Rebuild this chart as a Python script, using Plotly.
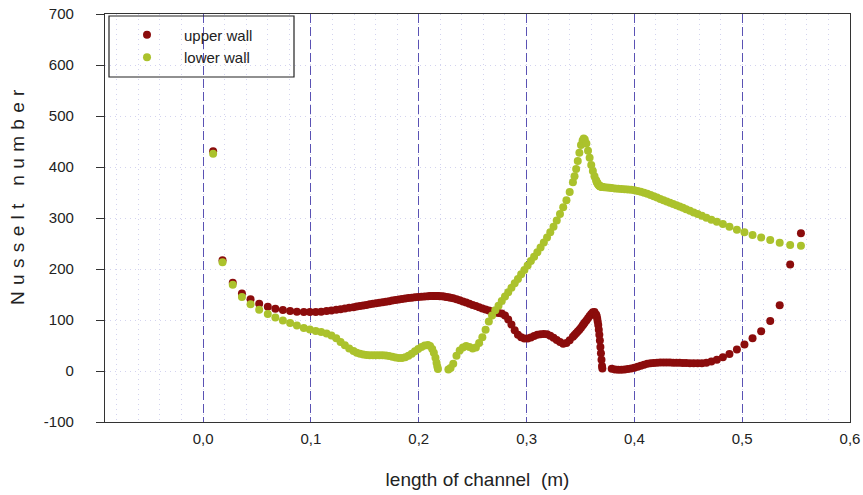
import plotly.graph_objects as go

# Position along the channel (m); both walls share the same mesh stations.
x_pos = [
    0.0093, 0.0180, 0.0275, 0.0360, 0.0440, 0.0520, 0.0600, 0.0670, 0.0740, 0.0807,
    0.0870, 0.0934, 0.0990, 0.1045, 0.1095, 0.1145, 0.1190, 0.1235, 0.1275, 0.1315,
    0.1355, 0.1395,
    0.1425, 0.1455, 0.1485, 0.1515, 0.1545, 0.1575, 0.1605, 0.1635, 0.1665, 0.1695,
    0.1725, 0.1755, 0.1785, 0.1815, 0.1845, 0.1875, 0.1905, 0.1935, 0.1965, 0.1995,
    0.2025, 0.2055, 0.2085, 0.2105, 0.2125, 0.2140, 0.2155, 0.2165, 0.2172, 0.2178,
    0.2195, 0.2215, 0.2235, 0.2255,
    0.2275, 0.2295, 0.2320, 0.2350, 0.2380, 0.2410, 0.2440, 0.2470, 0.2500, 0.2530,
    0.2560, 0.2590, 0.2620, 0.2650, 0.2680, 0.2710, 0.2740, 0.2770, 0.2800, 0.2830,
    0.2860, 0.2890, 0.2920, 0.2950, 0.2980, 0.3010, 0.3040, 0.3070, 0.3100, 0.3130,
    0.3160, 0.3190, 0.3220, 0.3250, 0.3280, 0.3310, 0.3340, 0.3370, 0.3400, 0.3430,
    0.3445, 0.3460, 0.3475, 0.3490, 0.3505, 0.3520, 0.3530, 0.3540, 0.3555, 0.3570,
    0.3585, 0.3600, 0.3615, 0.3630, 0.3645, 0.3650, 0.3655, 0.3660, 0.3665, 0.3670,
    0.3675, 0.3680, 0.3685, 0.3690, 0.3695, 0.3700, 0.3703,
    0.3720, 0.3745, 0.3770,
    0.3790, 0.3820, 0.3850, 0.3880, 0.3910, 0.3940, 0.3970, 0.4000, 0.4030, 0.4060,
    0.4090, 0.4120, 0.4150, 0.4180, 0.4210, 0.4240, 0.4270, 0.4300, 0.4330, 0.4360,
    0.4390, 0.4420, 0.4450, 0.4480, 0.4515, 0.4550, 0.4587, 0.4626, 0.4668, 0.4714,
    0.4765, 0.4821, 0.4882, 0.4951, 0.5021, 0.5096, 0.5176, 0.5260, 0.5348, 0.5445,
    0.5545,
]

# Nusselt number on the upper wall (None where the wall has no cells)
nu_upper = [
    431, 217, 173, 152, 140.5, 132, 126, 122, 119.6, 117.6,
    116.3, 115.7, 115.6, 115.8, 116.3, 117.5, 118.7, 120, 121.2, 122.5,
    123.8, 125.2,
    126.4, 127.5, 128.5, 129.6, 130.7, 131.7, 132.8, 133.8, 134.9, 135.9,
    137, 138, 139, 140, 141, 142, 143, 143.8, 144.5, 145.2,
    145.8, 146.3, 146.7, 146.9, 147, 147, 147, 147, 147, 147,
    146.8, 146.5, 146, 145.3,
    144.5, 143.8, 142.6, 140.9, 138.6, 136.5, 134.3, 132, 129.6, 127.3,
    125, 122.7, 120.5, 118.5, 116.5, 114.8, 113.8, 112.8, 109, 101,
    91, 80, 71, 66, 63.5, 63.5, 65.5, 68.5, 71, 72,
    72.5, 72, 69, 65, 61, 57, 53.5, 55, 60.5, 67,
    70.5, 74, 77.5, 81, 85, 89, 92, 95, 99, 103.5,
    108, 112, 115, 115.5, 111, 108, 103, 97, 90, 81,
    71, 60, 47, 35, 22, 10, 5,
    None, None, None,
    4.5, 3, 2.5, 2.5, 3, 4, 5, 6.5, 8.5, 10.5,
    12.5, 14, 15, 15.8, 16.3, 16.5, 16.6, 16.6, 16.5, 16.4,
    16.2, 16, 15.8, 15.6, 15.4, 15.2, 15.1, 15.3, 16.3, 18.5,
    22, 27, 33.5, 42, 52, 64, 78, 98, 129, 209,
    270,
]

# Nusselt number on the lower wall (None where the wall has no cells)
nu_lower = [
    426, 213, 169, 145, 131, 120, 112, 105, 99, 94,
    89, 84.5, 81.5, 78.5, 76.5, 73.5, 69.5, 64, 57, 50.5,
    44, 39,
    36, 34, 32.5, 31.5, 31, 31, 31, 31, 31, 30.5,
    29.5, 28, 26.5, 25.5, 25.5, 27, 30, 34, 38.5, 43,
    47, 50, 51, 49, 43, 36, 26, 16, 9, 4,
    None, None, None, None,
    3, 6, 14, 30, 40, 46, 49, 47, 44, 46,
    55, 66, 81, 97, 109, 119, 128, 137.5, 146, 154.5,
    163, 172, 180.5, 189.5, 198, 207, 215.5, 224, 233, 242,
    252, 262, 272, 283, 295, 308, 321, 335, 351, 370,
    382, 396, 412, 428, 443, 452, 456, 454, 446, 432,
    418, 404, 392, 382, 374, 371, 369, 367, 365.5, 364,
    363, 362.5, 362, 361.7, 361.4, 361.2, 361,
    360.5, 360, 359.5,
    359, 358, 357.5, 357, 356.5, 356, 355.5, 354.5, 353, 351.5,
    349.5, 347.5, 345, 342.5, 340, 337.5, 335, 332.5, 330, 327.5,
    325, 322.5, 320, 317, 314, 311, 308, 304.5, 300.5, 296.5,
    292.5, 288, 283, 277, 272, 266.7, 262, 257, 251.6, 247,
    245.7,
]

x_ticks = [0.0, 0.1, 0.2, 0.3, 0.4, 0.5, 0.6]
y_ticks = [-100, 0, 100, 200, 300, 400, 500, 600, 700]
y_tick_text = ["-100", "0", "100", "200", "300", "400", "500", "600", "700"]

RED = "#8b0c0c"
GREEN = "#abc22c"
AXIS = "#333333"
FONT = "Liberation Sans, Arial, sans-serif"
FAINT = "rgba(175,175,225,0.55)"

fig = go.Figure()
fig.add_trace(go.Scatter(x=x_pos, y=nu_upper, mode="markers", name="upper wall",
                         marker=dict(size=8, color=RED, line=dict(width=0))))
fig.add_trace(go.Scatter(x=x_pos, y=nu_lower, mode="markers", name="lower wall",
                         marker=dict(size=8, color=GREEN, line=dict(width=0))))

# spaced-out vertical axis title
spaced = "\u2004".join(list("Nusselt")) + "\u2004 \u2004" + "\u2004".join(list("number"))

fig.update_layout(
    width=863, height=495,
    margin=dict(l=105, r=13, t=14, b=73, pad=0, autoexpand=False),
    paper_bgcolor="white", plot_bgcolor="white",
    separators=", ",
    font=dict(family=FONT, size=15, color="#222222"),
    showlegend=True,
    legend=dict(x=(110 - 105) / 745, y=(422 - 18.5) / 408, xanchor="left", yanchor="top",
                bgcolor="rgba(0,0,0,0)", borderwidth=0, itemwidth=64,
                font=dict(size=15, family=FONT, color="#222222")),
    xaxis=dict(
        range=[-0.091, 0.6], tickvals=x_ticks, tickformat=".1f", automargin=False,
        showgrid=True, gridcolor="#5a52b4", gridwidth=1, griddash="9px,4px",
        minor=dict(dtick=0.02, tick0=0, showgrid=True, gridcolor=FAINT,
                   gridwidth=1, griddash="1px,4px"),
        showline=True, linecolor=AXIS, linewidth=1.3, mirror=True,
        ticks="", zeroline=False, ticklabelstandoff=3,
        tickfont=dict(size=15),
        title=dict(text="length of channel\u00a0 (m)", font=dict(size=19), standoff=26),
    ),
    yaxis=dict(
        range=[-100, 700], tickvals=y_ticks, ticktext=y_tick_text, automargin=False,
        showgrid=True, gridcolor=FAINT, gridwidth=1, griddash="1px,4px",
        showline=True, linecolor=AXIS, linewidth=1.3, mirror=True,
        ticks="outside", ticklen=8, tickcolor=AXIS, tickwidth=1.3,
        zeroline=False, ticklabelstandoff=19, tickfont=dict(size=15),
    ),
    shapes=[dict(type="rect", xref="paper", yref="paper",
                 x0=(109 - 105) / 745, x1=(294 - 105) / 745,
                 y0=(422 - 77) / 408, y1=(422 - 16) / 408,
                 line=dict(color="#222222", width=1.2), fillcolor="rgba(0,0,0,0)",
                 layer="above")],
    annotations=[dict(text=spaced, xref="paper", yref="paper", x=0, y=(422 - 197) / 408,
                      xshift=-87, textangle=-90, showarrow=False,
                      font=dict(size=19, family=FONT, color="#222222"),
                      xanchor="center", yanchor="middle")],
)

fig.write_html("out.html")
